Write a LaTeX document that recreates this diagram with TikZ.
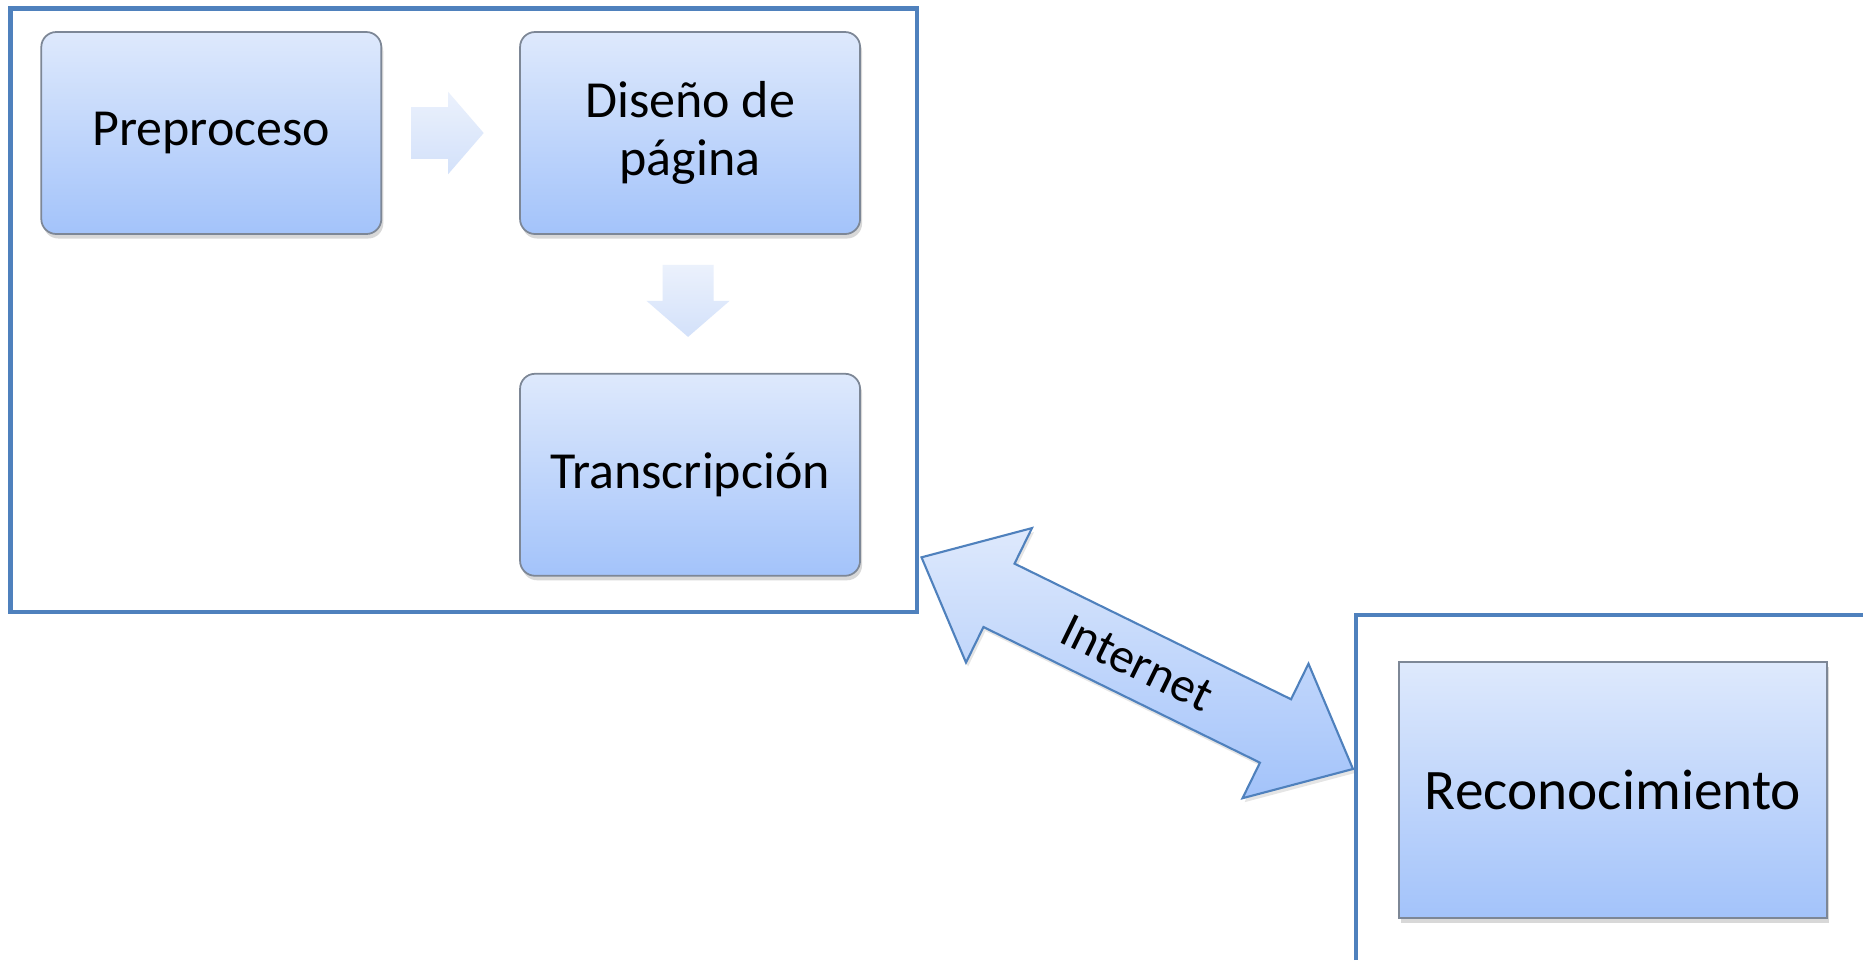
\documentclass[tikz,border=0pt]{standalone}
\usepackage{fontspec}
\setmainfont{Carlito}
\usepackage{xcolor}
\usetikzlibrary{positioning,calc,shadows}

\definecolor{frameblue}{RGB}{79,129,189}
\definecolor{boxtop}{RGB}{222,233,252}
\definecolor{boxbot}{RGB}{163,195,250}
\definecolor{boxline}{RGB}{125,135,150}
\definecolor{arrtop}{RGB}{235,241,252}
\definecolor{arrbot}{RGB}{211,225,250}

\begin{document}
\begin{tikzpicture}[
    stage/.style={draw=boxline, line width=0.5pt, top color=boxtop, bottom color=boxbot,
      minimum width=3.4cm, minimum height=2.02cm, rounded corners=0.15cm, align=center,
      font=\fontsize{14.8}{16.6}\selectfont,
      drop shadow={shadow xshift=0.02cm, shadow yshift=-0.045cm, opacity=0.3}},
    siteframe/.style={draw=frameblue, line width=1.4pt},
    flow/.style={top color=arrtop, bottom color=arrbot}
]
    % Page
    \fill[white] (0,0) rectangle (18.63,-9.60);
    \useasboundingbox (0,0) rectangle (18.63,-9.60);

    % Client side
    \draw[siteframe] (0.107,-0.083) rectangle (9.17,-6.12);
    \node[stage] (prep) at (2.113,-1.33) {Preproceso};
    \node[stage, right=1.37cm of prep] (diseno) {Diseño de\\página};
    \node[stage, below=1.38cm of diseno] (trans) {Transcripción};

    % Flow arrows
    \coordinate (r0) at ($(prep.east)+(0.292,0)$);
    \shade[flow] ($(r0)+(0,0.258)$) -- ++(0.368,0) -- ++(0,0.153) -- ++(0.355,-0.411)
        -- ++(-0.355,-0.411) -- ++(0,0.153) -- ++(-0.368,0) -- cycle;
    \coordinate (d0) at ($(diseno.south)+(-0.02,-0.30)$);
    \shade[flow] ($(d0)+(-0.255,0)$) -- ++(0.51,0) -- ++(0,-0.36) -- ++(0.16,0)
        -- ++(-0.415,-0.36) -- ++(-0.415,0.36) -- ++(0.16,0) -- cycle;

    % Server side
    \draw[siteframe] (13.56,-9.60) -- (13.56,-6.15) -- (18.63,-6.15);
    \node[stage, sharp corners, minimum width=4.28cm, minimum height=2.56cm,
        font=\fontsize{16.3}{19}\selectfont] (recon) at (16.13,-7.90) {Reconocimiento};

    % Internet link
    \coordinate (tipA) at (9.215,-5.573);
    \coordinate (tipB) at (13.53,-7.69);
    \begin{scope}[shift={(tipA)}, rotate=-26.13]
      \shade[draw=frameblue, line width=0.6pt, top color=boxtop, bottom color=boxbot,
          drop shadow={shadow xshift=0.02cm, shadow yshift=-0.04cm, opacity=0.2}]
        (0,0) -- (0.863,0.749) -- (0.863,0.353) -- (3.943,0.353) -- (3.943,0.749)
        -- (4.806,0) -- (3.943,-0.749) -- (3.943,-0.353) -- (0.863,-0.353)
        -- (0.863,-0.749) -- cycle;
    \end{scope}
    \node[rotate=-26.13, font=\fontsize{14}{16}\selectfont] (net) at ($(tipA)!0.5!(tipB)$) {Internet};
\end{tikzpicture}
\end{document}
